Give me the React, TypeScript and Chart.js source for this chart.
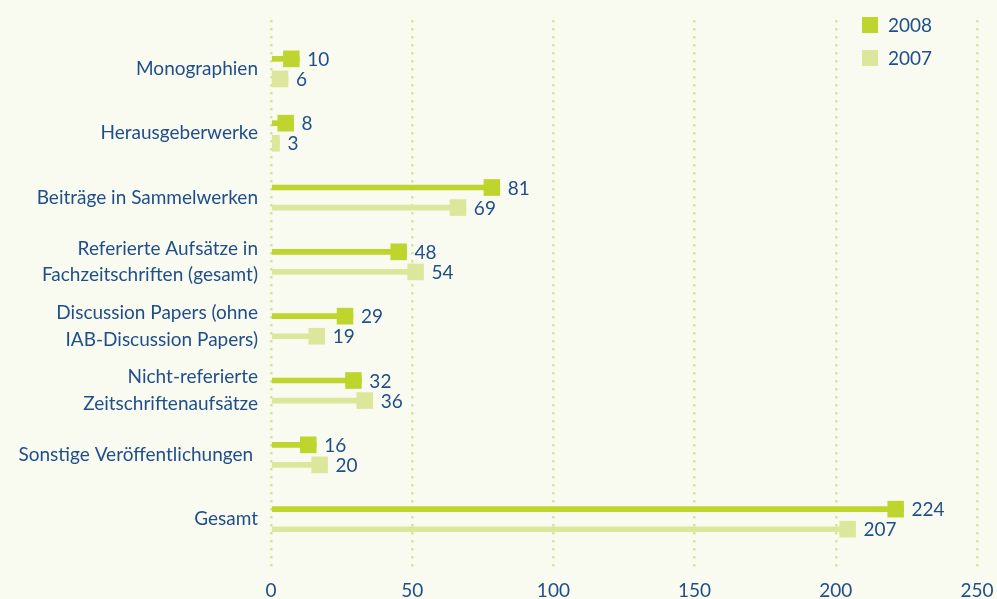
import React, { useEffect, useRef } from "react";
import { Chart, registerables } from "chart.js";

Chart.register(...registerables);

const categories: string[][] = [
  ["Monographien"],
  ["Herausgeberwerke"],
  ["Beiträge in Sammelwerken"],
  ["Referierte Aufsätze in", "Fachzeitschriften (gesamt)"],
  ["Discussion Papers (ohne", "IAB-Discussion Papers)"],
  ["Nicht-referierte", "Zeitschriftenaufsätze"],
  ["Sonstige Veröffentlichungen "],
  ["Gesamt"],
];
const values2008 = [10, 8, 81, 48, 29, 32, 16, 224];
const values2007 = [6, 3, 69, 54, 19, 36, 20, 207];
const seriesNames = ["2008", "2007"];
const xTicks = [0, 50, 100, 150, 200, 250];

const COLOR_2008 = "#bdd52d";
const COLOR_2007 = "#dce79c";
const TEXT = "#1f4f8a";
const GRID = "#d6e69c";
const BG = "#f9faf0";
const FONT = "Lato";
const FONT_SIZE = 19;
const OFFSET = 0.156;
const MARKER_UNITS = 5.6;

export default function App() {
  const ref = useRef<HTMLCanvasElement | null>(null);

  useEffect(() => {
    document.body.style.margin = "0";
    document.body.style.background = BG;
    const canvas = ref.current;
    if (!canvas) return;

    const lineData = (vals: number[], off: number) =>
      vals.map((v, i) => ({ x: v, y: i + off }));
    const markerData = (vals: number[], off: number) =>
      vals.map((v, i) => ({ x: [Math.max(0, v - MARKER_UNITS), v], y: i + off }));

    const labelPlugin = {
      id: "valueLabels",
      afterDatasetsDraw(chart: any) {
        const ctx = chart.ctx;
        ctx.save();
        ctx.fillStyle = TEXT;
        ctx.font = `${FONT_SIZE}px ${FONT}`;
        ctx.textBaseline = "middle";
        ctx.textAlign = "left";
        [2, 3].forEach((di, s) => {
          const meta = chart.getDatasetMeta(di);
          const vals = s === 0 ? values2008 : values2007;
          meta.data.forEach((el: any, i: number) => {
            ctx.fillText(String(vals[i]), el.x + 8, el.y + 1);
          });
        });
        // legend
        const lx = chart.chartArea.right - 115;
        const ys = [25, 58];
        [COLOR_2008, COLOR_2007].forEach((c, i) => {
          ctx.fillStyle = c;
          ctx.fillRect(lx, ys[i] - 8, 16, 16);
          ctx.fillStyle = TEXT;
          ctx.fillText(seriesNames[i], lx + 26, ys[i] + 1);
        });
        ctx.restore();
      },
    };

    const chart = new Chart(canvas, {
      type: "bar",
      data: {
        datasets: [
          {
            label: seriesNames[0] + " line",
            data: lineData(values2008, -OFFSET) as any,
            backgroundColor: COLOR_2008,
            barThickness: 5,
            grouped: false,
          },
          {
            label: seriesNames[1] + " line",
            data: lineData(values2007, OFFSET) as any,
            backgroundColor: COLOR_2007,
            barThickness: 5,
            grouped: false,
          },
          {
            label: seriesNames[0],
            data: markerData(values2008, -OFFSET) as any,
            backgroundColor: COLOR_2008,
            barThickness: 16,
            grouped: false,
          },
          {
            label: seriesNames[1],
            data: markerData(values2007, OFFSET) as any,
            backgroundColor: COLOR_2007,
            barThickness: 16,
            grouped: false,
          },
        ],
      },
      options: {
        indexAxis: "y",
        animation: false,
        responsive: false,
        layout: { padding: { top: 20, right: 20, left: 0, bottom: 0 } },
        plugins: {
          legend: { display: false },
          tooltip: { enabled: false },
        },
        scales: {
          x: {
            type: "linear",
            min: 0,
            max: 250,
            afterBuildTicks: (axis: any) => {
              axis.ticks = xTicks.map((v) => ({ value: v }));
            },
            afterFit: (axis: any) => {
              axis.height = 29;
              axis.paddingLeft = 0;
              axis.paddingRight = 0;
            },
            grid: {
              color: GRID,
              lineWidth: 2.5,
              drawTicks: false,
            },
            border: { display: false, dash: [2.5, 5.5] },
            ticks: {
              color: TEXT,
              font: { family: FONT, size: FONT_SIZE },
              padding: 9,
            },
          },
          y: {
            type: "linear",
            reverse: true,
            offset: false,
            min: -0.76,
            max: 7.79,
            afterBuildTicks: (axis: any) => {
              axis.ticks = categories.map((_, i) => ({ value: i }));
            },
            afterFit: (axis: any) => {
              axis.width = 271;
              axis.paddingTop = 0;
              axis.paddingBottom = 0;
            },
            grid: { display: false, drawTicks: false },
            border: { display: false },
            ticks: {
              color: TEXT,
              font: { family: FONT, size: FONT_SIZE, lineHeight: 1.42 },
              padding: 13,
              callback: (v: any) => categories[v as number],
            },
          },
        },
      },
      plugins: [labelPlugin],
    });

    return () => chart.destroy();
  }, []);

  return (
    <div style={{ width: 997, height: 599, background: BG }}>
      <canvas ref={ref} width={997} height={599} />
    </div>
  );
}
